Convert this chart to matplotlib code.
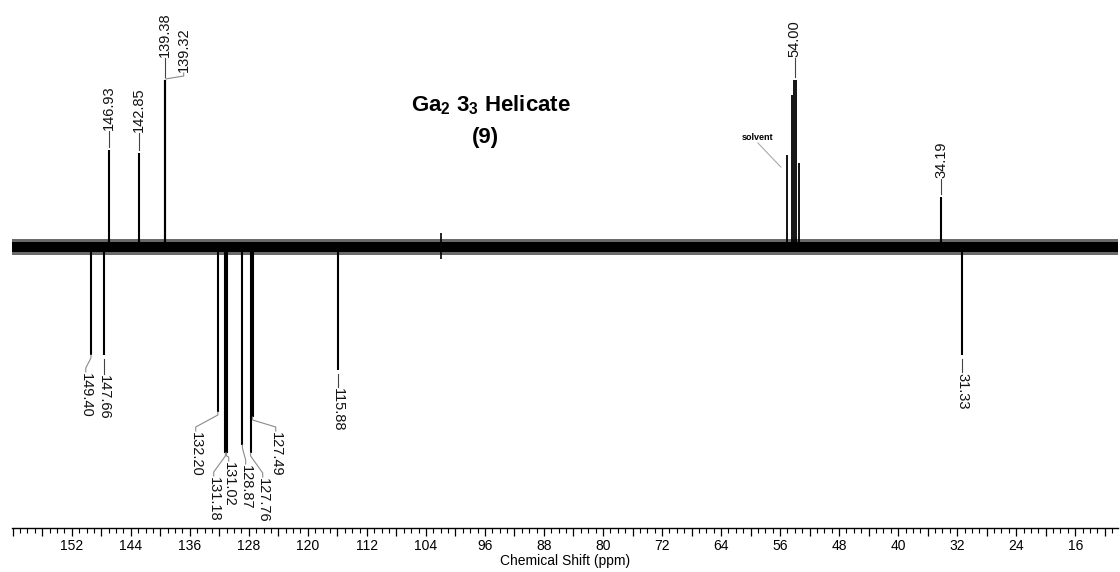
import matplotlib
matplotlib.use('Agg')
import matplotlib.pyplot as plt
from matplotlib.ticker import MultipleLocator, FuncFormatter

plt.rcParams['font.family'] = ['Liberation Sans', 'DejaVu Sans']
plt.rcParams['mathtext.fontset'] = 'custom'
plt.rcParams['mathtext.bf'] = 'Liberation Sans:bold'
plt.rcParams['mathtext.rm'] = 'Liberation Sans'

# ---------------- data ----------------
# positive (upward) peaks, chemical shift in ppm and relative height
up_shifts = [146.93, 142.85, 139.38, 139.32, 34.19]
up_heights = [97, 94, 167, 167, 50]
# negative (downward) peaks
down_shifts = [149.40, 147.66, 132.20, 131.18, 131.02, 128.87, 127.76, 127.49, 115.88, 31.33]
down_heights = [-108, -108, -165, -206, -206, -198, -206, -170, -123, -108]
# solvent multiplet
solvent_shifts = [55.0, 54.45, 54.05, 53.8, 53.4]
solvent_heights = [92, 152, 167, 167, 84]
# small artefact spike near 102 ppm
artifact_shift = [101.9]
artifact_low = [-12]
artifact_high = [14]
noise_level = 5

tick_labels = [152, 144, 136, 128, 120, 112, 104, 96, 88, 80, 72, 64, 56, 48, 40, 32, 24, 16]

title_main = r"Ga$_\mathbf{2}$ 3$_\mathbf{3}$ Helicate"
title_sub = "(9)"
x_label = "Chemical Shift (ppm)"

# ---------------- label layout (x in ppm, y in plot units) ----------------
# (peak shift, peak tip, label x, label edge y)
up_label_layout = [
    (146.93, 97, 146.93, 117),
    (142.85, 94, 142.85, 115),
    (139.38, 167, 139.38, 190),
    (139.32, 167, 136.83, 175),
    (54.00, 167, 54.00, 190),
    (34.19, 50, 34.19, 69),
]
down_label_layout = [
    (149.40, -108, 150.10, -126),
    (147.66, -108, 147.66, -128),
    (132.20, -165, 135.20, -185),
    (131.18, -206, 132.76, -230),
    (131.02, -206, 130.73, -215),
    (128.87, -198, 128.43, -218),
    (127.76, -206, 126.12, -231),
    (127.49, -170, 124.36, -185),
    (115.88, -123, 115.88, -141),
    (31.33, -108, 31.33, -126),
]

W, H = 1120, 572
fig = plt.figure(figsize=(W / 100, H / 100), dpi=100)
ax = fig.add_axes([12 / W, 44 / H, 1106 / W, 528 / H])
ax.set_xlim(160.1, 10.2)
ax.set_ylim(-281, 247)

# baseline noise band
ax.axhspan(-noise_level - 3, noise_level + 3, color='#6a6a6a', lw=0)
ax.axhspan(-noise_level, noise_level, color='black', lw=0)

# peaks
ax.vlines(up_shifts, 0, up_heights, color='black', lw=1.5)
ax.vlines(down_shifts, 0, down_heights, color='black', lw=1.5)
ax.vlines(solvent_shifts, 0, solvent_heights, color='black', lw=1.3)
ax.vlines(artifact_shift, artifact_low, artifact_high, color='black', lw=1.2)

conn_kw = dict(color='#8a8a8a', lw=0.8)
lab_kw = dict(fontsize=10.5, color='#111111')

for shift, tip, lx, ly in up_label_layout:
    if abs(lx - shift) < 1e-6:
        ax.plot([shift, shift], [tip + 3, ly - 1], color='#444444', lw=0.8)
    else:
        ax.plot([shift, lx, lx], [tip + 1, ly - 4, ly - 1], **conn_kw)
    ax.text(lx, ly, f"{shift:.2f}", rotation=90, ha='center', va='bottom', **lab_kw)

for shift, tip, lx, ly in down_label_layout:
    if abs(lx - shift) < 1e-6:
        ax.plot([shift, shift], [tip - 4, ly + 1], color='#444444', lw=0.8)
    else:
        ax.plot([shift, shift, lx, lx], [tip, tip - 3, ly + 5, ly + 1], **conn_kw)
    ax.text(lx, ly, f"{shift:.2f}", rotation=-90, ha='center', va='top', **lab_kw)

# solvent annotation
ax.text(59.05, 110, "solvent", fontsize=6.5, fontweight='bold', ha='center', va='center')
ax.plot([59.0, 55.9], [104, 80], color='#aaaaaa', lw=0.8)

# title
fig.text(491 / W, 1 - 105 / H, title_main, fontsize=16, fontweight='bold', ha='center', va='center')
fig.text(485 / W, 1 - 137 / H, title_sub, fontsize=16, fontweight='bold', ha='center', va='center')

# axis styling (ruler)
for s in ['top', 'left', 'right']:
    ax.spines[s].set_visible(False)
ax.spines['bottom'].set_linewidth(1.0)
ax.set_yticks([])
ax.xaxis.set_major_locator(MultipleLocator(4))
ax.xaxis.set_minor_locator(MultipleLocator(1))
ax.xaxis.set_major_formatter(
    FuncFormatter(lambda v, p: f"{v:.0f}" if int(round(v)) in tick_labels else ''))
ax.tick_params(axis='x', which='major', length=6, width=0.9, labelsize=10, pad=2)
ax.tick_params(axis='x', which='minor', length=3.5, width=0.8)
ax.set_xlabel(x_label, fontsize=10, labelpad=1)

fig.savefig('out.png', dpi=100)
